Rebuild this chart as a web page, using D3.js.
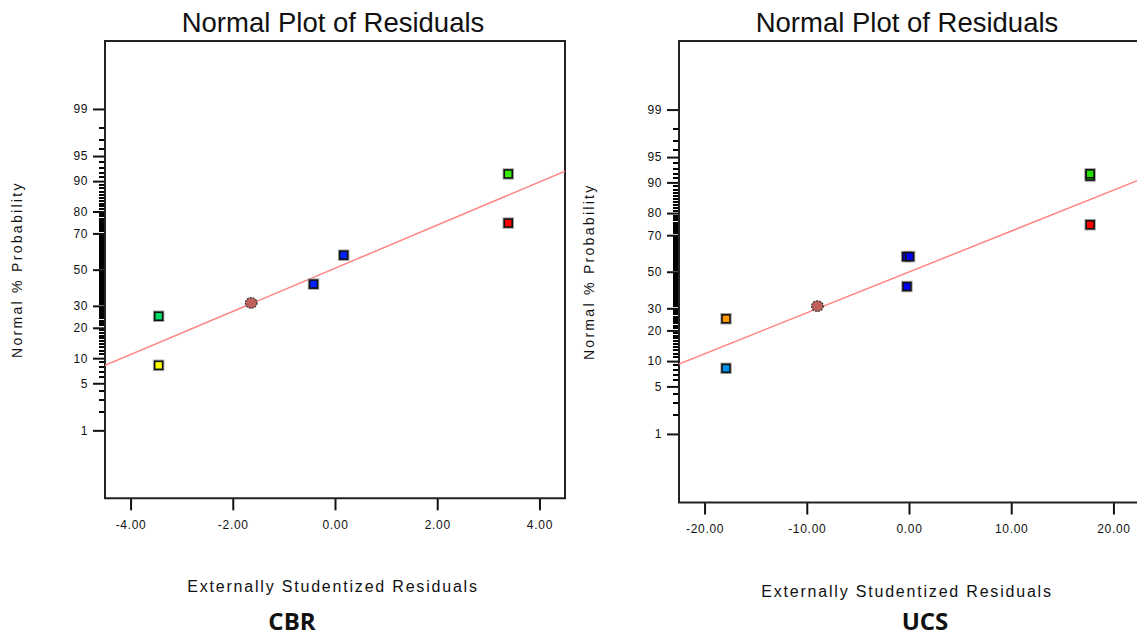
<!DOCTYPE html>
<html>
<head>
<meta charset="utf-8">
<script src="https://cdn.jsdelivr.net/npm/d3@7"></script>
<style>
  body { margin: 0; background: #fff; }
  text { font-family: "Liberation Sans", Arial, sans-serif; fill: #111; }
</style>
</head>
<body>
<svg id="chart" width="1137" height="637"></svg>
<script>
// probability axis ticks (percent)
const probTicks = [1, 5, 10, 20, 30, 50, 70, 80, 90, 95, 99];
const probMinor = d3.range(2, 99).filter(p => !probTicks.includes(p));

// CBR residuals
const cbrResid = [-3.45, -3.45, -1.64, -0.42, 0.17, 3.39, 3.39];
const cbrProb = [8.3, 25, 31.5, 41.7, 58.3, 75, 91.7];
const cbrTicks = [-4, -2, 0, 2, 4];
const cbrFit = { x: [-4.5, 4.5], p: [8.3, 92.3] };

// UCS residuals
const ucsResid = [-17.9, -17.9, -8.96, -0.2, -0.23, 0.06, 17.72, 17.72, 17.72];
const ucsProb = [8.3, 25, 31.1, 41.6, 58.6, 58.6, 75, 91.5, 92.0];
const ucsTicks = [-20, -10, 0, 10, 20];
const ucsFit = { x: [-22.5, 22.5], p: [9.3, 90.6] };

// marker styles
const cbrColors = ['#ffff00', '#00dd66', '#c0605a', '#0022ff', '#0022ff', '#ff0000', '#33ee00'];
const cbrShapes = ['sq', 'sq', 'circle', 'sq', 'sq', 'sq', 'sq'];
const ucsColors = ['#0090e8', '#ff9900', '#c0605a', '#0000ee', '#0000ee', '#0000ee', '#ff0000', '#22dd00', '#22dd00'];
const ucsShapes = ['sq', 'sq', 'circle', 'sq', 'sq', 'sq', 'sq', 'sq', 'sq'];

// inverse normal CDF (Acklam)
function probit(p) {
  const a = [-39.69683028665376, 220.9460984245205, -275.9285104469687, 138.3577518672690, -30.66479806614716, 2.506628277459239];
  const b = [-54.47609879822406, 161.5858368580409, -155.6989798598866, 66.80131188771972, -13.28068155288572];
  const c = [-0.007784894002430293, -0.3223964580411365, -2.400758277161838, -2.549732539343734, 4.374664141464968, 2.938163982698783];
  const d = [0.007784695709041462, 0.3224671290700398, 2.445134137142996, 3.754408661907416];
  const pl = 0.02425;
  let q, r;
  if (p < pl) {
    q = Math.sqrt(-2 * Math.log(p));
    return (((((c[0]*q+c[1])*q+c[2])*q+c[3])*q+c[4])*q+c[5]) / ((((d[0]*q+d[1])*q+d[2])*q+d[3])*q+1);
  } else if (p <= 1 - pl) {
    q = p - 0.5; r = q * q;
    return (((((a[0]*r+a[1])*r+a[2])*r+a[3])*r+a[4])*r+a[5])*q / (((((b[0]*r+b[1])*r+b[2])*r+b[3])*r+b[4])*r+1);
  }
  q = Math.sqrt(-2 * Math.log(1 - p));
  return -(((((c[0]*q+c[1])*q+c[2])*q+c[3])*q+c[4])*q+c[5]) / ((((d[0]*q+d[1])*q+d[2])*q+d[3])*q+1);
}

// wraps a z scale so d3.axis can use percent values
function probScale(range) {
  const z = d3.scaleLinear().domain([-3.31, 3.31]).range(range);
  const s = p => z(probit(p / 100));
  s.copy = () => s;
  s.range = () => z.range();
  s.domain = () => [0.05, 99.95];
  return s;
}

const svg = d3.select('#chart');

function drawPanel(cfg) {
  const x = d3.scaleLinear().domain(cfg.xDomain).range([cfg.left, cfg.right]);
  const y = probScale([cfg.bottom, cfg.top]);
  const g = svg.append('g');

  // title
  g.append('text')
    .attr('x', cfg.titleX).attr('y', 32)
    .attr('text-anchor', 'middle')
    .style('font-size', '27.5px')
    .text('Normal Plot of Residuals');

  // minor probability ticks
  g.append('g').attr('class', 'minor').selectAll('line').data(probMinor).enter().append('line')
    .attr('x1', cfg.left - 6).attr('x2', cfg.left)
    .attr('y1', d => Math.round(y(d))).attr('y2', d => Math.round(y(d)))
    .attr('stroke', '#000').attr('stroke-width', 2)
    .attr('shape-rendering', 'crispEdges');

  // major probability ticks
  g.append('g')
    .attr('transform', `translate(${cfg.left},0)`)
    .call(d3.axisLeft(y).tickValues(probTicks).tickSize(12).tickPadding(5).tickFormat(d => d))
    .call(a => a.select('.domain').remove())
    .call(a => a.selectAll('line').attr('stroke', '#111').attr('stroke-width', 2))
    .call(a => a.selectAll('text').style('font-size', '12px').style('letter-spacing', '0.6px')
      .attr('fill', '#111').attr('font-family', null));

  // x axis
  g.append('g')
    .attr('transform', `translate(0,${cfg.bottom})`)
    .call(d3.axisBottom(x).tickValues(cfg.xTicks).tickSize(12).tickPadding(10).tickFormat(d => d.toFixed(2)))
    .call(a => a.select('.domain').remove())
    .call(a => a.selectAll('line').attr('stroke', '#111').attr('stroke-width', 2))
    .call(a => a.selectAll('text').style('font-size', '12px').style('letter-spacing', '0.7px')
      .attr('fill', '#111').attr('font-family', null));

  // frame
  g.append('path')
    .attr('d', `M${cfg.right},${cfg.top}H${cfg.left}V${cfg.bottom}H${cfg.right}` + (cfg.closeRight ? 'Z' : ''))
    .attr('fill', 'none').attr('stroke', '#222').attr('stroke-width', 2);

  // fitted line
  const clipId = 'clip' + cfg.name;
  g.append('clipPath').attr('id', clipId).append('rect')
    .attr('x', cfg.left).attr('y', cfg.top)
    .attr('width', cfg.right - cfg.left).attr('height', cfg.bottom - cfg.top);
  g.append('line')
    .attr('clip-path', `url(#${clipId})`)
    .attr('x1', x(cfg.fit.x[0])).attr('y1', y(cfg.fit.p[0]))
    .attr('x2', x(cfg.fit.x[1])).attr('y2', y(cfg.fit.p[1]))
    .attr('stroke', '#ff8585').attr('stroke-width', 1.5);

  // points
  const pts = cfg.resid.map((r, i) => ({ r, p: cfg.prob[i], c: cfg.colors[i], s: cfg.shapes[i] }));
  const sq = pts.filter(d => d.s === 'sq');
  g.selectAll('rect.halo').data(sq).enter().append('rect')
    .attr('x', d => x(d.r) - 5).attr('y', d => y(d.p) - 5)
    .attr('width', 10).attr('height', 10)
    .attr('fill', 'none').attr('stroke', '#aaa').attr('stroke-width', 1.5);
  g.selectAll('rect.pt').data(sq).enter().append('rect')
    .attr('x', d => x(d.r) - 4).attr('y', d => y(d.p) - 4)
    .attr('width', 8).attr('height', 8)
    .attr('fill', d => d.c).attr('stroke', '#111').attr('stroke-width', 1.6);
  g.selectAll('ellipse').data(pts.filter(d => d.s === 'circle')).enter().append('ellipse')
    .attr('cx', d => x(d.r)).attr('cy', d => y(d.p))
    .attr('rx', 5.8).attr('ry', 5.3)
    .attr('fill', d => d.c).attr('stroke', '#333').attr('stroke-width', 1.2)
    .attr('stroke-dasharray', '2,1');

  // axis labels
  g.append('text')
    .attr('transform', `translate(${cfg.yLabelX},${(cfg.top + cfg.bottom) / 2}) rotate(-90)`)
    .attr('text-anchor', 'middle')
    .style('font-size', '14px').style('letter-spacing', '2.3px')
    .text('Normal % Probability');
  g.append('text')
    .attr('x', cfg.titleX).attr('y', cfg.bottom + 94)
    .attr('text-anchor', 'middle')
    .style('font-size', '16px').style('letter-spacing', '1.8px')
    .text('Externally Studentized Residuals');
  g.append('text')
    .attr('x', cfg.nameX).attr('y', 630)
    .attr('text-anchor', 'middle')
    .style('font-family', '"Open Sans", sans-serif')
    .style('font-weight', 700).style('font-size', '24px')
    .text(cfg.name);
}

drawPanel({
  name: 'CBR', left: 105, right: 565, top: 41, bottom: 498.3,
  xDomain: [-4.5, 4.5], xTicks: cbrTicks, fit: cbrFit,
  resid: cbrResid, prob: cbrProb, colors: cbrColors, shapes: cbrShapes,
  titleX: 333, yLabelX: 22, nameX: 292, closeRight: true
});

drawPanel({
  name: 'UCS', left: 679, right: 1139, top: 41, bottom: 502.5,
  xDomain: [-22.5, 22.5], xTicks: ucsTicks, fit: ucsFit,
  resid: ucsResid, prob: ucsProb, colors: ucsColors, shapes: ucsShapes,
  titleX: 907, yLabelX: 594, nameX: 925, closeRight: false
});
</script>
</body>
</html>
